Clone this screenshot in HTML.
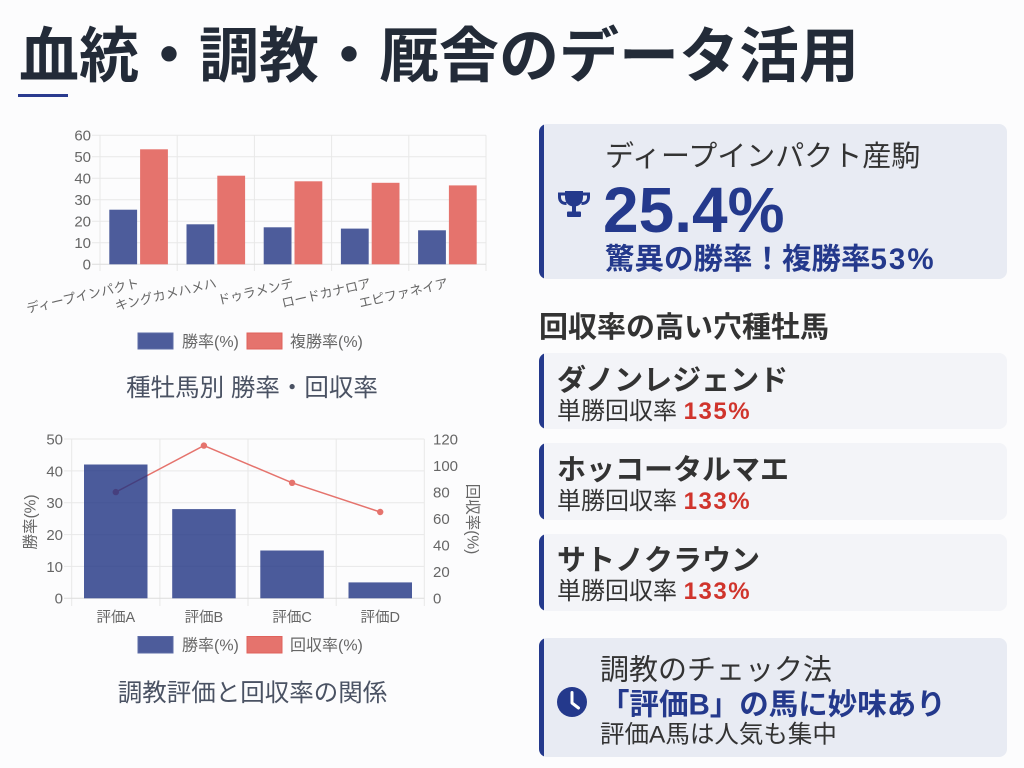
<!DOCTYPE html>
<html><head><meta charset="utf-8">
<style>
html,body{margin:0;padding:0;background:#fcfcfd;}
svg{display:block;font-family:"Liberation Sans","Noto Sans CJK JP",sans-serif;}
</style></head>
<body>
<svg width="1024" height="768" viewBox="0 0 1024 768" xmlns="http://www.w3.org/2000/svg">
<defs>
<clipPath id="c1"><rect x="539" y="124" width="468" height="155" rx="8"/></clipPath>
<clipPath id="c2"><rect x="539" y="353" width="468" height="76" rx="8"/></clipPath>
<clipPath id="c3"><rect x="539" y="443" width="468" height="77" rx="8"/></clipPath>
<clipPath id="c4"><rect x="539" y="534" width="468" height="77" rx="8"/></clipPath>
<clipPath id="c5"><rect x="539" y="638" width="468" height="119" rx="8"/></clipPath>
</defs>
<rect width="1024" height="768" fill="#fcfcfd"/>

<!-- Title -->
<text x="19" y="77" font-size="60" font-weight="bold" fill="#232b38">血統・調教・厩舎のデータ活用</text>
<rect x="18" y="94" width="50" height="3" fill="#2a3b8f"/>

<!-- ===== Chart 1 ===== -->
<g stroke="#e8e8e8" stroke-width="1">
<line x1="92" y1="135.3" x2="486" y2="135.3"/>
<line x1="92" y1="156.8" x2="486" y2="156.8"/>
<line x1="92" y1="178.3" x2="486" y2="178.3"/>
<line x1="92" y1="199.8" x2="486" y2="199.8"/>
<line x1="92" y1="221.3" x2="486" y2="221.3"/>
<line x1="92" y1="242.8" x2="486" y2="242.8"/>
<line x1="100" y1="135.3" x2="100" y2="271"/>
<line x1="177.2" y1="135.3" x2="177.2" y2="271"/>
<line x1="254.4" y1="135.3" x2="254.4" y2="271"/>
<line x1="331.6" y1="135.3" x2="331.6" y2="271"/>
<line x1="408.8" y1="135.3" x2="408.8" y2="271"/>
<line x1="486" y1="135.3" x2="486" y2="271"/>
</g>
<line x1="92" y1="264.3" x2="486" y2="264.3" stroke="#dcdcdc" stroke-width="1"/>
<g font-size="15" fill="#666" text-anchor="end">
<text x="91" y="140.7">60</text>
<text x="91" y="162.2">50</text>
<text x="91" y="183.7">40</text>
<text x="91" y="205.2">30</text>
<text x="91" y="226.7">20</text>
<text x="91" y="248.2">10</text>
<text x="91" y="269.7">0</text>
</g>
<g fill="#4d5c9b">
<rect x="109.3" y="209.7" width="27.8" height="54.6"/>
<rect x="186.5" y="224.3" width="27.8" height="40"/>
<rect x="263.7" y="227.3" width="27.8" height="37"/>
<rect x="340.9" y="228.6" width="27.8" height="35.7"/>
<rect x="418.1" y="230.3" width="27.8" height="34"/>
</g>
<g fill="#e5736d">
<rect x="140.1" y="149.3" width="27.8" height="115"/>
<rect x="217.3" y="175.7" width="27.8" height="88.6"/>
<rect x="294.5" y="181.3" width="27.8" height="83"/>
<rect x="371.7" y="182.8" width="27.8" height="81.5"/>
<rect x="448.9" y="185.4" width="27.8" height="78.9"/>
</g>
<g font-size="13" fill="#666" text-anchor="end">
<text transform="translate(137.6,277) rotate(-13)" dy="10.5">ディープインパクト</text>
<text transform="translate(214.8,277) rotate(-13)" dy="10.5">キングカメハメハ</text>
<text transform="translate(292,277) rotate(-13)" dy="10.5">ドゥラメンテ</text>
<text transform="translate(369.2,277) rotate(-13)" dy="10.5">ロードカナロア</text>
<text transform="translate(446.4,277) rotate(-13)" dy="10.5">エピファネイア</text>
</g>
<rect x="138" y="333" width="35" height="16" fill="#4d5c9b" stroke="#5d6ba6" stroke-width="1"/>
<text x="182" y="347" font-size="16" fill="#666">勝率(%)</text>
<rect x="247" y="333" width="35" height="16" fill="#e5736d" stroke="#e0625c" stroke-width="1"/>
<text x="290" y="347" font-size="16" fill="#666">複勝率(%)</text>
<text x="252" y="396" font-size="24.5" fill="#4a5263" text-anchor="middle">種牡馬別 勝率・回収率</text>

<!-- ===== Chart 2 ===== -->
<g stroke="#e8e8e8" stroke-width="1">
<line x1="64" y1="439" x2="424.3" y2="439"/>
<line x1="64" y1="470.9" x2="424.3" y2="470.9"/>
<line x1="64" y1="502.7" x2="424.3" y2="502.7"/>
<line x1="64" y1="534.6" x2="424.3" y2="534.6"/>
<line x1="64" y1="566.4" x2="424.3" y2="566.4"/>
<line x1="71.7" y1="439" x2="71.7" y2="606"/>
<line x1="159.9" y1="439" x2="159.9" y2="606"/>
<line x1="248" y1="439" x2="248" y2="606"/>
<line x1="336.2" y1="439" x2="336.2" y2="606"/>
<line x1="424.3" y1="439" x2="424.3" y2="606"/>
</g>
<line x1="64" y1="598.3" x2="424.3" y2="598.3" stroke="#dcdcdc" stroke-width="1"/>
<g font-size="15" fill="#666" text-anchor="end">
<text x="63" y="444.4">50</text>
<text x="63" y="476.3">40</text>
<text x="63" y="508.1">30</text>
<text x="63" y="540">20</text>
<text x="63" y="571.8">10</text>
<text x="63" y="603.7">0</text>
</g>
<g font-size="15" fill="#666" text-anchor="start">
<text x="433" y="444.4">120</text>
<text x="433" y="470.9">100</text>
<text x="433" y="497.5">80</text>
<text x="433" y="524">60</text>
<text x="433" y="550.6">40</text>
<text x="433" y="577.1">20</text>
<text x="433" y="603.7">0</text>
</g>
<text transform="translate(35.7,522) rotate(-90)" font-size="15.5" fill="#666" text-anchor="middle">勝率(%)</text>
<text transform="translate(467.3,519) rotate(90)" font-size="15.5" fill="#666" text-anchor="middle">回収率(%)</text>
<polyline points="115.8,492.1 203.9,445.6 292.1,482.8 380.2,512" fill="none" stroke="#e5736d" stroke-width="1.5"/>
<g fill="#e5736d">
<circle cx="115.8" cy="492.1" r="3.2"/>
<circle cx="203.9" cy="445.6" r="3.2"/>
<circle cx="292.1" cy="482.8" r="3.2"/>
<circle cx="380.2" cy="512" r="3.2"/>
</g>
<g fill="rgba(30,50,130,0.8)">
<rect x="84" y="464.5" width="63.5" height="133.8"/>
<rect x="172.2" y="509.1" width="63.5" height="89.2"/>
<rect x="260.3" y="550.5" width="63.5" height="47.8"/>
<rect x="348.5" y="582.4" width="63.5" height="15.9"/>
</g>
<g font-size="14.5" fill="#666" text-anchor="middle">
<text x="115.8" y="622">評価A</text>
<text x="203.9" y="622">評価B</text>
<text x="292.1" y="622">評価C</text>
<text x="380.2" y="622">評価D</text>
</g>
<rect x="138" y="636.5" width="35" height="16.5" fill="#4d5c9b" stroke="#5d6ba6" stroke-width="1"/>
<text x="182" y="650.5" font-size="16" fill="#666">勝率(%)</text>
<rect x="247" y="636.5" width="35" height="16.5" fill="#e5736d" stroke="#e0625c" stroke-width="1"/>
<text x="290" y="650.5" font-size="16" fill="#666">回収率(%)</text>
<text x="252.5" y="701" font-size="24.5" fill="#4a5263" text-anchor="middle">調教評価と回収率の関係</text>

<!-- ===== Right column ===== -->
<rect x="539" y="124" width="468" height="155" rx="8" fill="#e8ebf3"/>
<rect x="539" y="124" width="5" height="155" fill="#24398c" clip-path="url(#c1)"/>
<text x="605" y="166" font-size="29" fill="#333">ディープインパクト産駒</text>
<g fill="#24398c" transform="translate(557,191)">
<path d="M8,0 H26 V6 C26,12 22,15.5 17,15.5 C12,15.5 8,12 8,6 Z"/>
<path d="M8,3 H2.5 V6 C2.5,10 5,12.5 9.5,12.5 M26,3 H31.5 V6 C31.5,10 29,12.5 24.5,12.5" fill="none" stroke="#24398c" stroke-width="3"/>
<rect x="15" y="14" width="4" height="7"/>
<rect x="10" y="20.5" width="14" height="5.5" rx="1"/>
</g>
<text x="603" y="232" font-size="64" font-weight="bold" fill="#24398c">25.4%</text>
<text x="605" y="269" font-size="29.5" font-weight="bold" fill="#24398c">驚異の勝率！複勝率<tspan letter-spacing="2">53%</tspan></text>

<text x="539" y="337" font-size="29" font-weight="bold" fill="#333">回収率の高い穴種牡馬</text>

<rect x="539" y="353" width="468" height="76" rx="8" fill="#f3f4f8"/>
<rect x="539" y="353" width="5" height="76" fill="#24398c" clip-path="url(#c2)"/>
<text x="557" y="390" font-size="29" font-weight="bold" fill="#333">ダノンレジェンド</text>
<text x="557" y="419" font-size="24" fill="#333">単勝回収率 <tspan font-weight="bold" fill="#d0342c" letter-spacing="1.5">135%</tspan></text>

<rect x="539" y="443" width="468" height="77" rx="8" fill="#f3f4f8"/>
<rect x="539" y="443" width="5" height="77" fill="#24398c" clip-path="url(#c3)"/>
<text x="557" y="479.5" font-size="29" font-weight="bold" fill="#333">ホッコータルマエ</text>
<text x="557" y="509" font-size="24" fill="#333">単勝回収率 <tspan font-weight="bold" fill="#d0342c" letter-spacing="1.5">133%</tspan></text>

<rect x="539" y="534" width="468" height="77" rx="8" fill="#f3f4f8"/>
<rect x="539" y="534" width="5" height="77" fill="#24398c" clip-path="url(#c4)"/>
<text x="557" y="570" font-size="29" font-weight="bold" fill="#333">サトノクラウン</text>
<text x="557" y="599" font-size="24" fill="#333">単勝回収率 <tspan font-weight="bold" fill="#d0342c" letter-spacing="1.5">133%</tspan></text>

<rect x="539" y="638" width="468" height="119" rx="8" fill="#e8ebf3"/>
<rect x="539" y="638" width="5" height="119" fill="#24398c" clip-path="url(#c5)"/>
<text x="600" y="679.3" font-size="29" fill="#333">調教のチェック法</text>
<circle cx="572" cy="702" r="15" fill="#24398c"/>
<path d="M572,692.5 V703 L578.5,708" fill="none" stroke="#fff" stroke-width="3" stroke-linecap="round" stroke-linejoin="round"/>
<text x="600" y="714.3" font-size="29.5" font-weight="bold" fill="#24398c">「評価B」の馬に妙味あり</text>
<text x="600" y="742.6" font-size="24.5" fill="#333">評価A馬は人気も集中</text>
</svg>
</body></html>
